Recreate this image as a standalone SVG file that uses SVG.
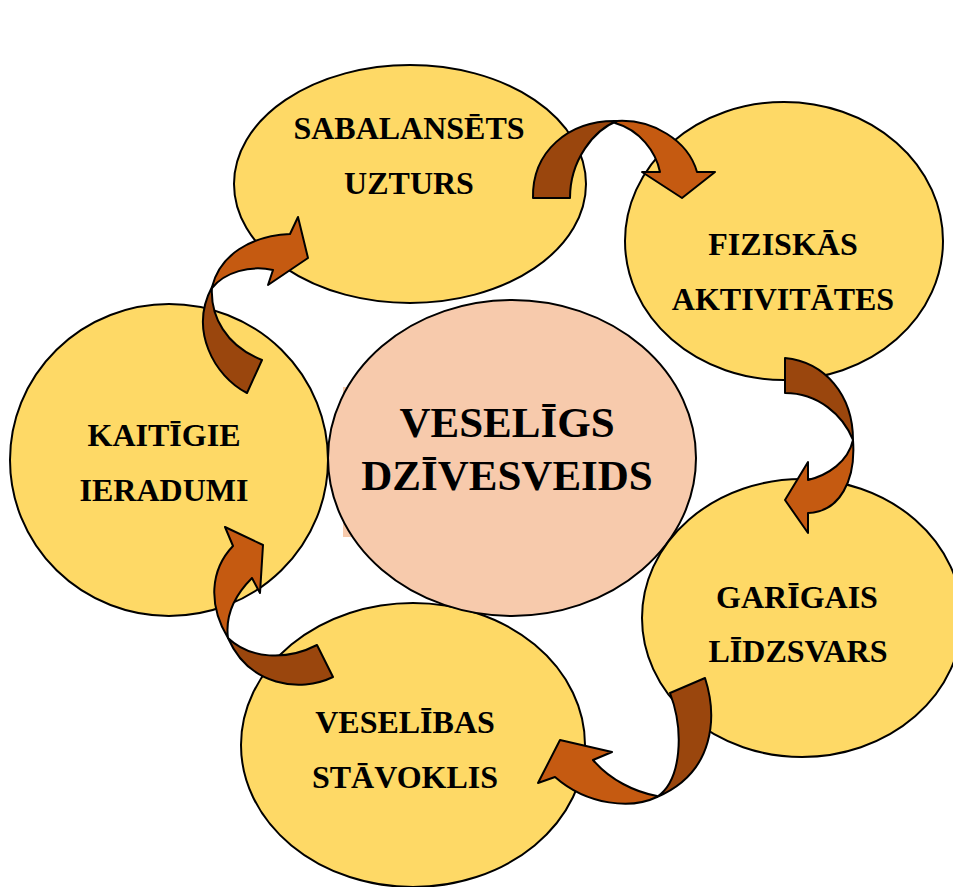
<svg xmlns="http://www.w3.org/2000/svg" width="953" height="887" viewBox="0 0 953 887">
<style>
.node{fill:#FED966;stroke:#000;stroke-width:2}
.center{fill:#F7CAAC;stroke:#000;stroke-width:2}
.lbl{font-family:"Liberation Serif","Times New Roman",serif;font-weight:bold;font-size:32px;text-anchor:middle;fill:#000}
.big{font-size:43px}
.dark{fill:#9A460D;stroke:#000;stroke-width:2;stroke-linejoin:round}
.light{fill:#C55A11;stroke:#000;stroke-width:2;stroke-linejoin:round}
</style>
<rect width="953" height="887" fill="#fff"/>
<g id="node-sabalansets">
<ellipse class="node" cx="410" cy="184" rx="176" ry="119"/>
<text class="lbl" x="409" y="139">SABALANSĒTS</text>
<text class="lbl" x="409" y="194">UZTURS</text>
</g>
<g id="node-fiziskas">
<ellipse class="node" cx="784" cy="241" rx="159" ry="139"/>
<text class="lbl" x="783" y="255">FIZISKĀS</text>
<text class="lbl" x="783" y="310">AKTIVITĀTES</text>
</g>
<g id="node-kaitigie">
<ellipse class="node" cx="169" cy="460" rx="159" ry="156"/>
<text class="lbl" x="164" y="446">KAITĪGIE</text>
<text class="lbl" x="164" y="501">IERADUMI</text>
</g>
<g id="node-veselibas">
<ellipse class="node" cx="413" cy="745" rx="172" ry="142"/>
<text class="lbl" x="405" y="733">VESELĪBAS</text>
<text class="lbl" x="405" y="788">STĀVOKLIS</text>
</g>
<g id="node-center">
<rect x="343" y="387" width="320" height="150" fill="#F7CAAC"/>
<ellipse class="center" cx="512" cy="458" rx="184" ry="158"/>
<text class="lbl big" x="507" y="437">VESELĪGS</text>
<text class="lbl big" x="507" y="490">DZĪVESVEIDS</text>
</g>
<g id="node-garigais">
<ellipse class="node" cx="802" cy="618" rx="160" ry="139"/>
<text class="lbl" x="797" y="608">GARĪGAIS</text>
<text class="lbl" x="798" y="662">LĪDZSVARS</text>
</g>
<g id="connectors">
<path class="dark" d="M533,198 C532,152 568,120 617,121 C594,130 570,160 570,198 Z"/>
<path class="light" d="M617,121 C652,119 688,140 697,172 L715,172 L682,198 L642,172 L660,172 C656,152 640,130 615,123 Z"/>
<path class="dark" d="M785,358 C825,362 853,395 853,440 C843,415 818,393 785,393 Z"/>
<path class="light" d="M853,440 C856,480 840,512 808,513 L808,533 L785,500 L808,462 L808,480 C828,475 848,462 853,440 Z"/>
<path class="dark" d="M670,693 L705,678 C717,715 716,772 657,797 C682,780 684,730 670,693 Z"/>
<path class="light" d="M657,797 C632,809 588,806 555,777 L538,783 L560,740 L612,752 L593,760 C610,780 635,792 657,796 Z"/>
<path class="dark" d="M317,645 L333,677 C300,693 249,686 228,638 C250,659 286,661 317,645 Z"/>
<path class="light" d="M228,638 C208,605 210,570 233,546 L225,527 L263,545 L260,593 L252,578 C235,595 225,615 228,638 Z"/>
<path class="dark" d="M247,393 C214,376 189,330 212,287 C210,316 226,346 262,360 Z"/>
<path class="light" d="M212,287 C220,255 250,236 290,234 L298,217 L308,258 L268,285 L273,270 C250,265 225,272 212,288 Z"/>
</g>
</svg>
